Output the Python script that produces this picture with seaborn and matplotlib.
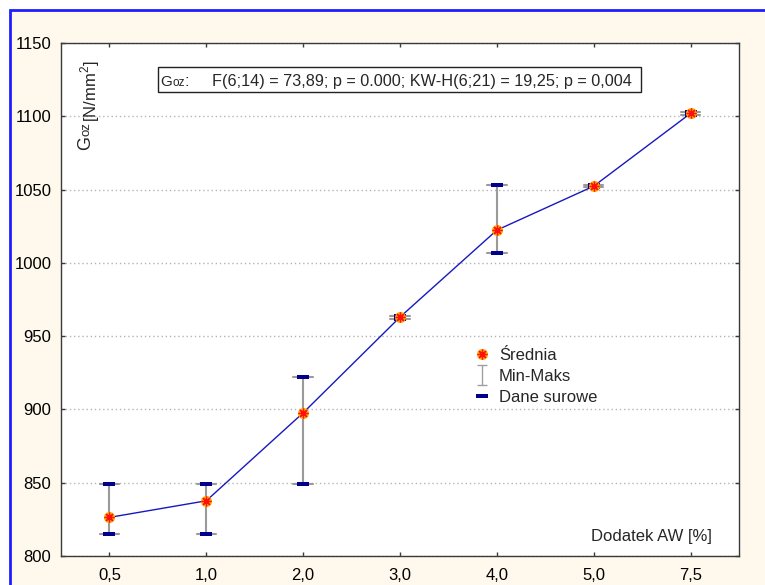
import numpy as np
import pandas as pd
import matplotlib
matplotlib.use("Agg")
import matplotlib.pyplot as plt
from matplotlib.patches import Rectangle
from matplotlib.lines import Line2D
from matplotlib.path import Path
import seaborn as sns

# ---- data ----
categories = ["0,5", "1,0", "2,0", "3,0", "4,0", "5,0", "7,5"]
raw_0_5 = [815, 815, 849]
raw_1_0 = [815, 849, 849]
raw_2_0 = [849, 922, 922]
raw_3_0 = [962, 963, 964]
raw_4_0 = [1007, 1007, 1053]
raw_5_0 = [1052, 1052, 1053]
raw_7_5 = [1101, 1102, 1103]
raw_values = [raw_0_5, raw_1_0, raw_2_0, raw_3_0, raw_4_0, raw_5_0, raw_7_5]
y_ticks = [800, 850, 900, 950, 1000, 1050, 1100, 1150]
stats_text = "F(6;14) = 73,89; p = 0.000; KW-H(6;21) = 19,25; p = 0,004"

df = pd.DataFrame({
    "dodatek": [c for c, vals in zip(categories, raw_values) for _ in vals],
    "goz": [v for vals in raw_values for v in vals],
})

sns.set_style("white")
plt.rcParams["font.family"] = ["Liberation Sans", "DejaVu Sans"]
plt.rcParams["mathtext.fontset"] = "custom"
plt.rcParams["mathtext.rm"] = "Liberation Sans"

W, H = 765, 585
def fx(x):
    return x / W
def fy(y):
    return 1 - y / H

fig = plt.figure(figsize=(W / 100, H / 100), dpi=100)
fig.patch.set_facecolor("white")
fig.add_artist(Rectangle((fx(9.5), -0.1), 1.2, fy(10) + 0.1, transform=fig.transFigure,
                         facecolor="#FEF9EC", edgecolor="#1E1EFF", linewidth=2, zorder=-10))

ax = fig.add_axes([fx(61), fy(556), (739 - 61) / W, (556 - 43) / H])
ax.set_facecolor("white")

def minmax(v):
    return (np.min(v), np.max(v))

# error bars (min-max)
sns.pointplot(data=df, x="dodatek", y="goz", order=categories, estimator="mean",
              errorbar=minmax, capsize=0.2, color="#9a9a9a", linestyle="none",
              marker="", err_kws={"linewidth": 1.5, "zorder": 2}, ax=ax)
# recolor caps lighter
for ln in ax.lines:
    yd = np.asarray(ln.get_ydata(), dtype=float)
    xd = np.asarray(ln.get_xdata(), dtype=float)
    if len(yd) == 2 and np.isclose(yd[0], yd[1]) and not np.isclose(xd[0], xd[1]):
        ln.set_color("#c4c4c4")

# mean line
sns.pointplot(data=df, x="dodatek", y="goz", order=categories, estimator="mean",
              errorbar=None, color="#1818C0", marker="", linewidth=1.0, zorder=3, ax=ax)

# raw data dashes
dash = [(-1, -0.36), (1, -0.36), (1, 0.36), (-1, 0.36)]
sns.stripplot(data=df, x="dodatek", y="goz", order=categories, jitter=False,
              marker=dash, color="#00008C", size=8, linewidth=0, zorder=4, ax=ax)

# mean markers
sns.pointplot(data=df, x="dodatek", y="goz", order=categories, estimator="mean",
              errorbar=None, color="#FFA800", linestyle="none", marker="o",
              markersize=8, markeredgewidth=0, zorder=5, ax=ax)
sns.pointplot(data=df, x="dodatek", y="goz", order=categories, estimator="mean",
              errorbar=None, color="#FF1010", linestyle="none", marker=(8, 2, 0),
              markersize=7, markeredgewidth=0.9, zorder=6, ax=ax)

ax.set_xlim(-0.5, 6.5)
ax.set_ylim(800, 1150)
ax.set_yticks(y_ticks)
ax.set_xlabel("")
ax.set_ylabel("")
ax.yaxis.grid(True, color="#b4b4b4", linestyle=(0, (1, 2)), linewidth=1)
ax.xaxis.grid(False)
ax.set_axisbelow(True)
for s in ax.spines.values():
    s.set_color("#3a3a3a")
    s.set_linewidth(1)
ax.tick_params(axis="both", which="both", direction="in", length=3, width=1,
               colors="#3a3a3a", labelcolor="black", labelsize=12,
               top=True, right=True, bottom=True, left=True)
ax.tick_params(axis="y", pad=7)
ax.tick_params(axis="x", pad=9)

# statistics box
fig.add_artist(Rectangle((fx(158), fy(92)), (641 - 158) / W, 25 / H, transform=fig.transFigure,
                         facecolor="white", edgecolor="#222222", linewidth=1, zorder=5))
fig.text(fx(160), fy(86), "G", fontsize=11, ha="left", va="baseline", zorder=6)
fig.text(fx(172.5), fy(86), "oz", fontsize=8.5, ha="left", va="baseline", zorder=6)
fig.text(fx(185), fy(86), ":", fontsize=12, ha="left", va="baseline", zorder=6)
fig.text(fx(212), fy(86), stats_text, fontsize=11.7, ha="left", va="baseline", zorder=6)

# y-axis title (inside the plot)
fig.text(fx(90), fy(150), "G", fontsize=13, rotation=90, rotation_mode="anchor",
         ha="left", va="baseline")
fig.text(fx(90), fy(136), "oz", fontsize=9.5, rotation=90, rotation_mode="anchor",
         ha="left", va="baseline")
fig.text(fx(96), fy(122), r"[N/mm$^{2}$]", fontsize=12, rotation=90, rotation_mode="anchor",
         ha="left", va="baseline")

# x-axis title (inside the plot)
fig.text(fx(712), fy(541), "Dodatek AW [%]", fontsize=12, ha="right", va="baseline")

# legend
i_path = Path([(-0.45, 1), (0.45, 1), (0, 1), (0, -1), (-0.45, -1), (0.45, -1)],
              [Path.MOVETO, Path.LINETO, Path.MOVETO, Path.LINETO, Path.MOVETO, Path.LINETO])
h_mean = (Line2D([], [], linestyle="none", marker="o", markersize=8, markerfacecolor="#FFA800",
                 markeredgewidth=0),
          Line2D([], [], linestyle="none", marker=(8, 2, 0), markersize=7, color="#FF1010",
                 markeredgewidth=0.9))
h_mm = Line2D([], [], linestyle="none", marker=i_path, markersize=15, markerfacecolor="none",
              markeredgecolor="#a0a0a0", markeredgewidth=1.0)
h_raw = Line2D([], [], linestyle="none", marker=dash, markersize=8, color="#00008C",
               markeredgewidth=0)
ax.legend([h_mean, h_mm, h_raw], ["Średnia", "Min-Maks", "Dane surowe"],
          loc="upper left", bbox_to_anchor=((474 - 61) / 678, (556 - 348) / 513),
          frameon=False, fontsize=12, handlelength=1.0, handletextpad=0.5,
          labelspacing=0.36, borderaxespad=0, borderpad=0)

fig.savefig("out.png", dpi=100, facecolor=fig.get_facecolor())
